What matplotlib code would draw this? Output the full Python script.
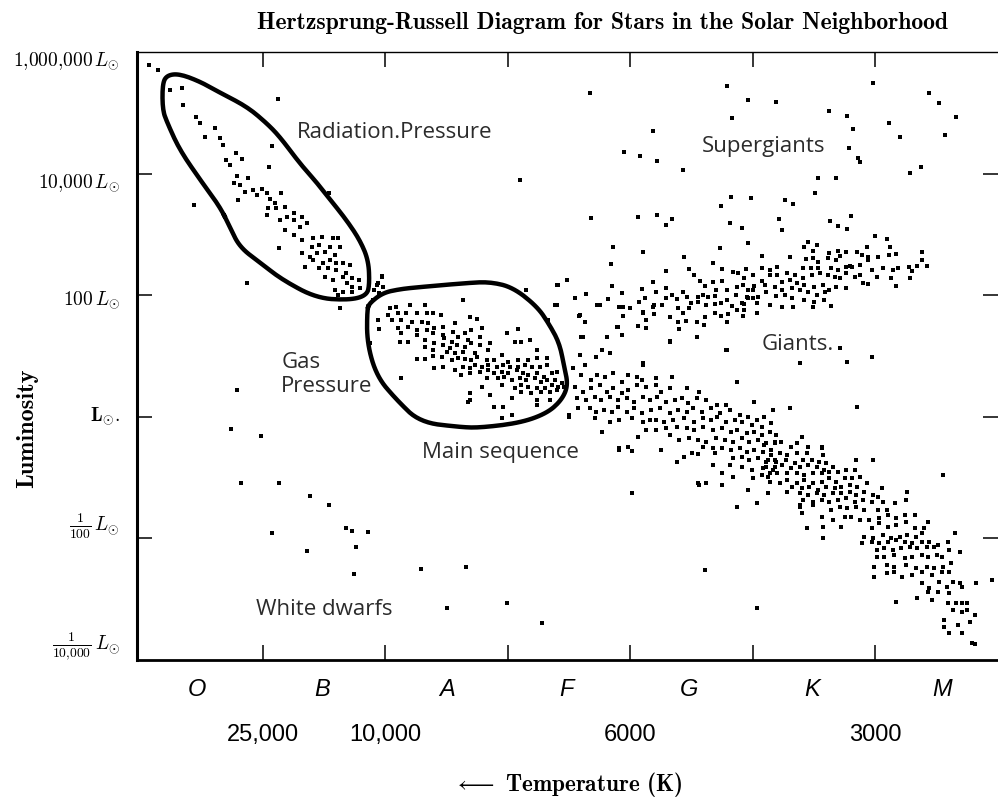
import matplotlib.pyplot as plt
from matplotlib import transforms

plt.rcParams["mathtext.fontset"] = "cm"

# Star positions: spectral position in subclasses (O0 = 0, B0 = 10, ... M0 = 60)
# and log10 of the luminosity in solar units.
radiation = [
    (0.7, 5.79), (1.4, 5.70), (2.4, 5.38), (3.4, 5.41), (3.5, 5.13), (4.5, 4.93),
    (4.9, 4.83), (5.3, 4.60), (6.1, 4.75), (6.5, 4.59), (6.7, 4.47), (11.2, 5.23),
    (10.7, 4.45), (10.5, 4.11), (7.8, 4.34), (8.3, 4.24), (7.0, 4.22), (7.3, 4.14),
    (7.9, 3.96), (8.8, 3.93), (7.6, 3.85), (8.1, 3.82), (8.5, 3.70), (9.2, 3.73),
    (9.9, 3.75), (8.0, 3.57), (9.5, 3.65), (10.3, 3.68), (10.6, 3.58), (11.5, 3.68),
    (11.0, 3.52), (10.4, 3.43), (11.1, 3.43), (11.8, 3.45), (12.5, 3.35), (10.3, 3.32),
    (11.4, 3.24), (12.0, 3.29), (12.5, 3.24), (13.2, 3.29), (13.0, 3.12), (13.6, 3.19),
    (11.8, 3.07), (12.5, 2.99), (14.1, 2.94), (14.8, 2.96), (15.7, 2.94), (16.1, 2.94),
    (13.2, 2.91), (14.0, 2.79), (14.6, 2.83), (15.5, 2.79), (16.3, 2.79), (11.3, 2.78),
    (13.2, 2.69), (13.8, 2.63), (14.4, 2.69), (15.1, 2.71), (15.9, 2.66), (14.1, 2.58),
    (14.9, 2.53), (15.5, 2.58), (16.0, 2.53), (16.5, 2.53), (17.1, 2.50), (13.4, 2.46),
    (14.6, 2.45), (15.3, 2.45), (16.0, 2.41), (16.8, 2.36), (15.1, 2.30), (15.7, 2.25),
    (16.5, 2.30), (17.3, 2.28), (17.8, 2.25), (16.9, 2.20), (17.3, 2.13), (15.9, 2.09),
    (16.5, 2.05), (17.3, 2.05), (17.9, 2.12), (16.1, 2.00), (4.4, 3.48), (8.7, 2.20),
    (19.4, 2.20), (19.7, 2.30), (19.8, 2.13), (19.1, 2.09), (16.3, 1.79), (15.4, 3.68),
]

main_upper = [
    (19.7, 2.31), (19.3, 2.17), (19.5, 2.04), (19.0, 1.92), (20.4, 1.79), (20.9, 1.81),
    (22.0, 1.84), (23.2, 1.84), (20.2, 1.67), (21.0, 1.71), (21.7, 1.71), (22.6, 1.71),
    (23.4, 1.71), (23.9, 1.71), (24.5, 1.67), (19.4, 1.59), (20.5, 1.59), (21.3, 1.59),
    (22.2, 1.56), (23.0, 1.56), (23.5, 1.54), (26.9, 1.64), (27.5, 1.61), (21.0, 1.46),
    (21.8, 1.48), (22.6, 1.43), (23.4, 1.43), (24.0, 1.46), (24.7, 1.48), (25.7, 1.54),
    (19.5, 1.44), (21.3, 1.38), (22.6, 1.35), (23.9, 1.38), (24.7, 1.35), (25.5, 1.40),
    (26.5, 1.38), (27.0, 1.43), (27.9, 1.46), (21.2, 1.23), (21.8, 1.23), (23.2, 1.26),
    (24.0, 1.21), (24.8, 1.30), (25.4, 1.23), (25.9, 1.31), (26.7, 1.26), (27.7, 1.31),
    (24.7, 1.18), (25.3, 1.13), (25.8, 1.18), (26.5, 1.15), (27.0, 1.21), (27.7, 1.18),
    (28.5, 1.21), (18.7, 1.21), (23.2, 1.15), (23.9, 1.10), (25.0, 1.07), (25.7, 1.05),
    (26.3, 1.07), (27.3, 1.05), (28.4, 1.10), (29.9, 1.38), (30.8, 1.44), (30.6, 1.23),
    (31.1, 1.23), (31.8, 1.26), (32.4, 1.10), (22.6, 0.95), (23.2, 0.95), (23.9, 1.00),
    (24.6, 0.98), (25.4, 0.93), (25.9, 0.97), (26.5, 0.95), (27.0, 0.93), (27.5, 0.98),
    (28.3, 0.93), (28.9, 0.93), (29.5, 1.02), (30.0, 0.90), (30.8, 0.93), (31.6, 0.93),
    (32.4, 0.97), (33.2, 0.97), (24.0, 0.80), (24.7, 0.82), (25.7, 0.77), (26.3, 0.82),
    (26.9, 0.80), (27.3, 0.85), (27.9, 0.82), (28.4, 0.85), (29.1, 0.82), (29.6, 0.85),
    (30.2, 0.82), (30.8, 0.82), (31.4, 0.85), (32.0, 0.82), (32.6, 0.82), (33.2, 0.85),
    (26.2, 0.69), (26.9, 0.72), (27.7, 0.74), (28.4, 0.77), (28.9, 0.72), (29.5, 0.74),
    (30.0, 0.72), (30.7, 0.77), (31.2, 0.72), (31.6, 0.69), (32.4, 0.72), (32.9, 0.65),
    (33.6, 0.72), (34.0, 0.74), (28.3, 0.64), (29.2, 0.64), (29.7, 0.65), (30.3, 0.61),
    (31.0, 0.64), (31.5, 0.61), (32.2, 0.64), (32.7, 0.57), (33.2, 0.61), (33.8, 0.61),
    (34.4, 0.56), (34.1, 0.49), (33.6, 0.53), (33.0, 0.48), (32.4, 0.48), (31.6, 0.49),
    (31.1, 0.53), (30.6, 0.48), (29.5, 0.53), (27.9, 0.49), (31.1, 0.41), (31.9, 0.39),
    (32.7, 0.41), (33.4, 0.41), (34.0, 0.44), (34.6, 0.49), (21.3, 0.64), (26.9, 0.39),
    (28.5, 0.36), (26.7, 0.25), (30.3, 0.31), (32.4, 0.28), (33.4, 0.28), (32.4, 0.20),
    (28.9, 0.16), (29.6, 0.16), (30.3, 0.03), (29.5, -0.02), (31.5, 2.09), (34.1, 2.17),
    (34.8, 2.25), (33.8, 1.84), (33.3, 1.59), (26.3, 1.92), (35.0, 0.00), (26.9, 0.28),
]

main_middle = [
    (35.9, 1.02), (37.2, 0.98), (38.3, 1.05), (41.0, 0.85), (47.8, 1.10), (35.3, 0.80),
    (36.3, 0.85), (36.0, 0.69), (36.8, 0.61), (37.3, 0.69), (37.9, 0.65), (38.6, 0.72),
    (39.3, 0.57), (39.8, 0.69), (40.5, 0.65), (40.9, 0.61), (42.1, 0.64), (43.4, 0.65),
    (35.5, 0.49), (36.1, 0.41), (36.8, 0.48), (37.5, 0.53), (38.1, 0.41), (38.6, 0.48),
    (39.3, 0.39), (39.8, 0.44), (40.5, 0.53), (41.3, 0.49), (42.1, 0.53), (42.5, 0.41),
    (43.2, 0.48), (44.6, 0.48), (45.6, 0.41), (48.7, 0.57), (35.6, 0.31), (36.4, 0.28),
    (37.1, 0.33), (37.6, 0.28), (38.3, 0.33), (39.0, 0.28), (39.7, 0.31), (40.3, 0.25),
    (41.0, 0.33), (41.6, 0.28), (42.2, 0.33), (42.9, 0.25), (43.6, 0.28), (44.2, 0.31),
    (44.7, 0.23), (45.4, 0.31), (46.2, 0.28), (47.1, 0.20), (47.8, 0.20), (50.1, 0.25),
    (51.6, 0.11), (35.0, 0.03), (35.7, 0.14), (36.7, 0.14), (37.2, 0.08), (37.8, 0.11),
    (38.5, 0.08), (39.0, 0.16), (39.7, 0.08), (40.3, 0.14), (40.9, 0.06), (41.7, 0.11),
    (42.4, 0.14), (43.2, 0.06), (43.9, 0.11), (44.6, 0.08), (45.1, 0.14), (45.8, 0.08),
    (46.6, 0.14), (47.3, 0.06), (48.1, 0.11), (48.9, 0.03), (49.6, 0.00), (50.3, -0.05),
    (50.9, 0.00), (37.1, -0.02), (38.3, -0.08), (39.1, -0.05), (40.1, -0.02), (41.0, -0.08),
    (41.6, -0.05), (42.1, -0.05), (42.7, -0.08), (43.5, -0.05), (44.4, -0.02), (45.2, -0.08),
    (45.9, -0.02), (46.6, -0.05), (47.1, 0.00), (47.8, -0.08), (48.5, -0.05), (49.1, -0.08),
    (49.9, -0.13), (50.7, -0.17), (51.5, -0.10), (37.7, -0.25), (41.3, -0.22), (42.1, -0.22),
    (42.9, -0.18), (43.8, -0.17), (44.6, -0.18), (45.2, -0.22), (45.9, -0.17), (46.7, -0.22),
    (47.5, -0.18), (48.2, -0.25), (48.7, -0.22), (49.5, -0.27), (50.1, -0.25), (50.7, -0.30),
    (51.4, -0.25), (51.9, -0.30), (40.6, -0.33), (43.2, -0.30), (44.0, -0.38), (44.8, -0.35),
    (45.5, -0.38), (46.2, -0.41), (47.0, -0.35), (47.7, -0.38), (48.4, -0.41), (49.1, -0.35),
    (49.7, -0.41), (50.4, -0.38), (51.1, -0.43), (51.8, -0.41), (45.9, -0.50), (46.7, -0.51),
    (47.5, -0.51), (48.2, -0.55), (48.9, -0.51), (49.5, -0.58), (50.1, -0.55), (50.8, -0.58),
    (51.5, -0.55), (39.1, -0.55), (39.8, -0.50), (40.1, -0.56), (42.5, -0.55), (43.8, -0.74),
    (44.4, -0.66), (45.0, -0.60), (45.5, -0.61), (46.9, -0.60), (48.4, -0.68), (49.1, -0.66),
    (49.7, -0.71), (50.4, -0.68), (51.1, -0.74), (51.8, -0.71), (46.7, -0.79), (48.1, -0.79),
    (49.1, -0.83), (49.9, -0.88), (50.8, -0.84), (51.6, -0.88), (47.5, -0.92), (48.4, -0.99),
    (50.0, -1.01), (50.7, -0.96), (51.2, -0.99), (45.6, -1.12), (46.2, -1.09), (47.5, -1.12),
    (49.6, -1.20), (51.2, -1.25), (40.1, -1.25),
]

main_lower = [
    (50.9, -0.46), (51.8, -0.43), (52.3, -0.41), (53.1, -0.50), (53.6, -0.43), (54.5, -0.50),
    (55.6, -0.51), (50.8, -0.58), (51.5, -0.63), (52.2, -0.60), (52.8, -0.63), (53.6, -0.60),
    (54.4, -0.60), (55.7, -0.63), (51.2, -0.71), (51.9, -0.74), (52.7, -0.71), (53.4, -0.76),
    (54.1, -0.71), (54.8, -0.71), (55.4, -0.74), (56.0, -0.76), (51.1, -0.83), (51.8, -0.83),
    (52.4, -0.79), (53.1, -0.84), (53.8, -0.83), (54.5, -0.79), (55.2, -0.83), (55.8, -0.88),
    (56.5, -0.83), (58.4, -0.71), (59.8, -0.71), (50.7, -0.96), (51.4, -0.92), (52.0, -0.92),
    (52.8, -0.92), (53.6, -0.92), (54.2, -0.96), (54.9, -0.92), (55.6, -0.92), (56.2, -0.91),
    (56.9, -0.91), (57.6, -0.88), (58.3, -0.88), (51.4, -1.07), (52.2, -1.09), (52.8, -1.04),
    (53.6, -1.09), (54.2, -1.04), (54.9, -1.09), (55.6, -1.07), (56.2, -1.01), (56.8, -1.07),
    (57.5, -1.01), (58.1, -1.01), (58.7, -0.99), (53.2, -1.15), (54.0, -1.17), (54.6, -1.15),
    (55.3, -1.20), (56.0, -1.15), (56.7, -1.17), (57.2, -1.15), (57.9, -1.12), (58.5, -1.15),
    (59.3, -1.09), (52.8, -1.24), (53.8, -1.25), (54.5, -1.29), (55.2, -1.25), (55.8, -1.29),
    (56.5, -1.25), (57.2, -1.25), (57.9, -1.24), (58.4, -1.29), (59.1, -1.24), (59.8, -1.29),
    (60.5, -1.17), (54.1, -1.37), (54.9, -1.40), (55.6, -1.37), (56.2, -1.40), (56.9, -1.37),
    (57.6, -1.34), (58.3, -1.40), (59.0, -1.37), (59.7, -1.40), (60.2, -1.32), (60.6, -1.40),
    (53.8, -1.45), (54.9, -1.45), (56.4, -1.53), (57.1, -1.48), (57.7, -1.50), (58.4, -1.48),
    (59.1, -1.53), (60.2, -1.53), (60.9, -1.53), (61.6, -1.42), (62.6, -1.24), (62.5, -1.37),
    (54.0, -1.58), (55.6, -1.65), (56.5, -1.70), (57.5, -1.65), (58.0, -1.65), (58.7, -1.70),
    (59.5, -1.70), (60.3, -1.66), (61.0, -1.61), (61.7, -1.66), (62.4, -1.61), (63.2, -1.61),
    (54.4, -1.83), (55.7, -1.81), (57.2, -1.81), (59.7, -1.83), (60.3, -1.75), (61.0, -1.81),
    (61.7, -1.78), (62.5, -1.73), (63.2, -1.83), (64.0, -1.83), (64.3, -1.73), (55.7, -2.00),
    (59.1, -1.98), (59.8, -2.00), (60.6, -1.95), (61.3, -2.00), (62.0, -1.98), (62.6, -1.95),
    (63.3, -1.98), (63.8, -1.91), (58.9, -2.08), (59.7, -2.06), (60.3, -2.08), (61.0, -2.06),
    (61.7, -2.03), (62.4, -2.06), (63.0, -2.08), (63.8, -2.06), (64.4, -2.06), (65.1, -2.11),
    (65.9, -2.06), (66.5, -1.91), (60.1, -2.19), (60.7, -2.16), (61.4, -2.19), (62.1, -2.16),
    (62.8, -2.14), (63.4, -2.16), (64.2, -2.14), (64.8, -2.14), (60.1, -2.31), (60.7, -2.31),
    (61.5, -2.27), (62.4, -2.32), (63.0, -2.31), (63.8, -2.27), (64.3, -2.31), (65.0, -2.27),
    (65.4, -2.31), (66.0, -2.19), (66.9, -2.22), (59.9, -2.47), (60.9, -2.44), (61.5, -2.47),
    (62.5, -2.44), (63.3, -2.49), (64.2, -2.47), (64.8, -2.49), (65.5, -2.47), (66.2, -2.40),
    (59.9, -2.63), (60.9, -2.57), (61.5, -2.55), (62.2, -2.63), (63.0, -2.60), (63.8, -2.55),
    (64.6, -2.60), (65.4, -2.55), (66.0, -2.55), (63.8, -2.73), (64.4, -2.82), (65.2, -2.72),
    (65.8, -2.80), (66.3, -2.72), (66.9, -2.73), (67.1, -2.80), (64.3, -2.88), (65.1, -2.88),
    (66.0, -2.90), (63.4, -2.98), (64.6, -3.01), (65.9, -3.06), (66.6, -3.06), (67.1, -3.06),
    (67.5, -3.06), (66.3, -3.18), (67.1, -3.21), (67.5, -3.18), (68.1, -3.26), (65.6, -3.34),
    (66.7, -3.42), (67.7, -3.38), (65.6, -3.46), (66.0, -3.56), (67.1, -3.56), (68.1, -3.74),
    (61.7, -3.05), (69.5, -2.68), (68.2, -2.73), (67.9, -3.72), (65.5, -0.96),
]

field_stars = [
    (34.0, 1.84), (35.9, 1.67), (36.1, 1.31), (37.3, 1.84), (39.1, 1.81), (41.0, 1.72),
    (41.8, 1.81), (38.1, 1.31), (37.7, 1.10), (41.0, 0.88), (38.9, 1.48), (39.3, 1.35),
    (43.2, 1.23), (53.8, 0.88), (57.1, 1.13), (57.7, 0.90), (59.7, 0.98), (53.0, 0.14),
    (58.5, 0.16), (54.0, -0.33), (55.6, -0.50), (39.1, -0.51), (45.5, -1.09), (48.7, -1.48),
    (50.3, -1.42), (53.8, -1.48), (46.1, -2.52), (50.3, -3.15), (29.9, -3.06), (32.8, -3.39),
]

white_dwarfs = [
    (7.9, 0.44), (7.4, -0.20), (9.8, -0.32), (8.2, -1.09), (11.3, -1.09), (13.8, -1.30),
    (15.4, -1.45), (10.7, -1.91), (16.8, -1.83), (17.3, -1.88), (18.6, -1.89), (17.6, -2.14),
    (13.6, -2.21), (17.4, -2.59), (22.9, -2.50), (26.6, -2.47), (25.0, -3.14),
]

supergiants = [
    (36.7, 5.32), (31.0, 3.89), (41.8, 4.70), (39.5, 4.36), (40.8, 4.29), (42.2, 4.21),
    (44.3, 4.06), (47.9, 5.44), (49.6, 5.21), (51.9, 5.18), (48.3, 4.91), (56.2, 5.03),
    (57.7, 4.95), (58.2, 4.73), (57.8, 4.42), (58.6, 4.26), (59.8, 5.49), (61.1, 4.83),
    (62.0, 4.60), (64.4, 5.33), (65.2, 5.16), (66.6, 4.93), (65.7, 4.63), (62.8, 4.01),
    (63.7, 4.11), (55.3, 3.93), (56.8, 3.93), (55.1, 3.68), (48.2, 3.61), (49.8, 3.60),
    (47.4, 3.47), (52.6, 3.57), (53.3, 3.50), (36.8, 3.27), (40.6, 3.29), (42.2, 3.32),
    (42.9, 3.15), (43.4, 3.25), (48.1, 3.19), (52.1, 3.25), (52.4, 3.07), (56.3, 3.22),
    (56.9, 3.14), (57.7, 3.09), (58.0, 3.30), (49.1, 3.10), (49.6, 2.86), (47.3, 2.78),
    (38.6, 2.79), (41.0, 2.71), (44.4, 2.63), (50.7, 2.64), (60.0, 2.97), (60.9, 2.92),
    (63.8, 2.71), (64.2, 2.48), (58.7, 4.19), (54.5, 2.87), (55.2, 2.83), (54.2, 2.79),
]

giants = [
    (38.4, 2.51), (46.7, 2.53), (44.8, 2.43), (42.9, 2.40), (45.2, 2.33), (47.5, 2.43),
    (48.4, 2.38), (48.8, 2.36), (49.4, 2.43), (34.8, 2.25), (38.5, 2.15), (39.3, 2.04),
    (40.9, 2.10), (41.8, 2.22), (42.9, 2.12), (42.1, 2.05), (44.3, 2.05), (45.7, 2.23),
    (46.1, 2.15), (46.7, 2.22), (47.5, 2.23), (47.0, 2.09), (47.9, 2.09), (48.7, 2.13),
    (49.3, 2.28), (49.2, 2.17), (49.6, 2.09), (50.1, 2.15), (35.5, 1.95), (36.4, 2.02),
    (38.2, 1.94), (37.5, 1.84), (39.4, 1.81), (40.0, 1.79), (40.7, 1.89), (41.2, 1.95),
    (41.9, 1.84), (42.6, 1.84), (42.9, 1.95), (43.4, 2.00), (43.8, 1.94), (44.6, 1.97),
    (44.9, 1.87), (45.5, 1.97), (45.9, 2.00), (46.3, 1.97), (46.9, 1.99), (45.5, 1.89),
    (46.2, 1.84), (46.9, 1.86), (47.4, 1.87), (47.9, 1.92), (48.3, 1.82), (48.6, 2.00),
    (49.1, 1.87), (49.6, 1.95), (50.0, 1.95), (49.3, 1.76), (35.8, 1.66), (36.3, 1.56),
    (39.4, 1.66), (41.0, 1.71), (41.9, 1.69), (43.2, 1.64), (43.9, 1.79), (44.3, 1.71),
    (44.8, 1.79), (43.9, 1.56), (44.5, 1.58), (45.4, 1.56), (46.1, 1.64), (46.9, 1.71),
    (47.4, 1.66), (48.0, 1.69), (48.7, 1.76), (49.2, 1.66), (50.3, 1.71), (39.0, 1.48),
    (40.6, 1.49), (41.3, 1.59), (41.3, 1.46), (44.0, 1.44), (46.0, 1.51), (47.9, 1.56),
    (36.0, 1.31), (39.3, 1.35), (45.4, 1.31), (47.9, 1.10), (43.2, 1.25), (34.0, 2.17),
    (54.9, 2.73), (56.2, 2.69), (56.9, 2.73), (57.6, 2.71), (57.1, 2.64), (58.5, 2.71),
    (59.3, 2.79), (58.9, 2.66), (59.4, 2.63), (60.2, 2.63), (61.2, 2.79), (61.7, 2.68),
    (61.1, 2.66), (63.8, 2.58), (63.4, 2.48), (63.0, 2.40), (62.7, 2.46), (61.8, 2.45),
    (61.4, 2.41), (61.3, 2.28), (62.8, 2.28), (61.7, 2.15), (60.6, 2.45), (60.1, 2.30),
    (59.7, 2.41), (59.4, 2.58), (58.7, 2.50), (58.7, 2.33), (58.1, 2.46), (57.6, 2.46),
    (57.9, 2.48), (57.6, 2.36), (58.3, 2.30), (59.0, 2.20), (59.4, 2.18), (56.8, 2.58),
    (56.1, 2.61), (55.3, 2.55), (54.9, 2.61), (54.3, 2.60), (54.1, 2.45), (54.7, 2.45),
    (55.3, 2.45), (56.4, 2.45), (56.9, 2.41), (57.1, 2.28), (57.6, 2.12), (56.7, 2.30),
    (56.1, 2.33), (55.5, 2.36), (54.8, 2.33), (54.1, 2.28), (53.4, 2.33), (52.8, 2.36),
    (52.0, 2.46), (51.4, 2.41), (50.7, 2.45), (50.0, 2.33), (50.7, 2.23), (51.4, 2.33),
    (52.0, 2.33), (52.4, 2.22), (53.0, 2.25), (53.6, 2.20), (54.2, 2.17), (55.0, 2.13),
    (55.7, 2.17), (56.2, 2.09), (56.8, 2.13), (55.9, 2.05), (55.2, 2.00), (54.5, 2.05),
    (53.8, 2.09), (53.2, 2.12), (52.4, 2.09), (51.8, 2.13), (51.0, 2.17), (50.0, 2.09),
    (49.5, 1.97), (50.4, 1.97), (51.1, 2.05), (51.9, 1.99), (52.6, 2.00), (53.2, 1.95),
    (54.2, 1.92), (55.0, 1.89), (55.8, 1.92), (56.4, 1.82), (49.3, 1.86), (50.3, 1.87),
    (51.4, 1.84), (52.4, 1.81), (53.3, 1.81), (54.9, 1.81), (53.0, 2.63),
]

# Outlines of the radiation-pressure and gas-pressure regions
radiation_outline = [
    (6.5, 3.45), (7.3, 3.12), (8.1, 2.79), (9.8, 2.53), (11.6, 2.25), (14.4, 1.95),
    (17.1, 1.92), (18.5, 2.00), (18.7, 2.20), (18.6, 2.58), (17.9, 2.91), (16.8, 3.24),
    (15.5, 3.57), (14.4, 3.85), (13.0, 4.17), (11.4, 4.60), (10.3, 4.83), (8.7, 5.10),
    (6.5, 5.33), (4.9, 5.51), (3.2, 5.64), (2.2, 5.62), (1.8, 5.49), (1.8, 5.05),
    (2.2, 4.83), (3.2, 4.39), (4.9, 3.89),
]
main_outline = [
    (18.5, 1.76), (18.7, 1.87), (19.8, 2.04), (21.2, 2.10), (22.6, 2.13), (26.6, 2.20),
    (28.5, 2.22), (30.4, 2.13), (32.4, 1.81), (33.4, 1.51), (34.2, 1.21), (34.6, 0.82),
    (34.9, 0.52), (34.4, 0.28), (33.2, 0.06), (31.0, -0.10), (27.7, -0.18), (26.1, -0.17),
    (22.8, -0.09), (20.9, 0.28), (19.3, 0.66), (18.5, 1.21),
]

class_letters = ["O", "B", "A", "F", "G", "K", "M"]
class_centres = [4.6, 14.8, 25.0, 34.8, 44.8, 54.8, 65.4]
class_edges = [10, 20, 30, 40, 50, 60]

temp_positions = [10, 20, 40, 60]
temp_labels = ["25,000", "10,000", "6000", "3000"]

lum_ticks = [6, 4, 2, 0, -2, -4]
lum_labels = [
    r"$1{,}000{,}000\,L_{\odot}$",
    r"$10{,}000\,L_{\odot}$",
    r"$100\,L_{\odot}$",
    r"$\mathbf{L}_{\odot}.$",
    r"$\frac{1}{100}\,L_{\odot}$",
    r"$\frac{1}{10{,}000}\,L_{\odot}$",
]
lum_label_shift = [0.16, 0.16, 0.08, 0.0, -0.2, -0.22]

regions = [
    ("Radiation.Pressure", 12.8, 4.59),
    ("Supergiants", 45.8, 4.36),
    ("Giants.", 50.7, 1.10),
    ("Gas\nPressure", 11.5, 0.41),
    ("Main sequence", 23.0, -0.68),
    ("White dwarfs", 9.4, -3.26),
]


def rounded(points, passes=3):
    # corner cutting so the hand-drawn loops come out smooth
    for _ in range(passes):
        cut = []
        for i, (x0, y0) in enumerate(points):
            x1, y1 = points[(i + 1) % len(points)]
            cut.append((0.75 * x0 + 0.25 * x1, 0.75 * y0 + 0.25 * y1))
            cut.append((0.25 * x0 + 0.75 * x1, 0.25 * y0 + 0.75 * y1))
        points = cut
    return points


fig = plt.figure(figsize=(9.98, 8), dpi=100)
ax = fig.add_axes([0.1373, 0.175, 0.8627, 0.76])
ax.set_xlim(-0.28, 70.0)
ax.set_ylim(-4, 6)

for group in (radiation, main_upper, main_middle, main_lower, field_stars,
              white_dwarfs, supergiants, giants):
    xs, ys = zip(*group)
    ax.scatter(xs, ys, s=5, marker="s", color="black", linewidths=0, zorder=3)

for outline in (radiation_outline, main_outline):
    smooth = rounded(outline)
    xs, ys = zip(*(smooth + smooth[:1]))
    ax.plot(xs, ys, color="black", lw=3.2, solid_joinstyle="round", zorder=4)

for label, x, y in regions:
    ax.text(x, y, label, family="Open Sans", fontsize=16, color="#2b2b2b",
            ha="left", va="baseline", linespacing=1.15, zorder=5)

# frame: heavy left/bottom, light top, no right spine
ax.spines["right"].set_visible(False)
ax.spines["left"].set_linewidth(2.2)
ax.spines["bottom"].set_linewidth(2.0)
ax.spines["top"].set_linewidth(1.0)

ax.set_xticks(class_edges)
ax.set_xticklabels([])
ax.tick_params(axis="x", which="major", direction="in", length=11, width=1.1,
               top=True, bottom=True)
ax.set_xticks(class_centres, minor=True)
ax.set_xticklabels(class_letters, minor=True, family="Liberation Sans",
                   fontstyle="italic", fontsize=17)
ax.tick_params(axis="x", which="minor", length=0, pad=13)

ax.set_yticks(lum_ticks[1:-1])
ax.set_yticklabels([])
ax.tick_params(axis="y", direction="in", length=11, width=1.1, left=True, right=True)

ytrans = transforms.blended_transform_factory(ax.transAxes, ax.transData)
for val, lab, dy in zip(lum_ticks, lum_labels, lum_label_shift):
    ax.text(-0.02, val - dy, lab, transform=ytrans, ha="right", va="center",
            fontsize=14)

xtrans = transforms.blended_transform_factory(ax.transData, ax.transAxes)
for pos, lab in zip(temp_positions, temp_labels):
    ax.text(pos, -0.123, lab, transform=xtrans, ha="center", va="center",
            family="Liberation Sans", fontsize=17)

fig.text(0.604, 0.971, "Hertzsprung-Russell Diagram for Stars in the Solar Neighborhood",
         family="cmb10", fontsize=17, ha="center", va="center")
fig.text(0.027, 0.465, "Luminosity", family="cmb10", fontsize=17.5,
         rotation=90, ha="center", va="center")
fig.text(0.569, 0.019, r"$\longleftarrow$ Temperature (K)", family="cmb10",
         fontsize=16.7, ha="center", va="center")

fig.savefig("out.png", dpi=100)
